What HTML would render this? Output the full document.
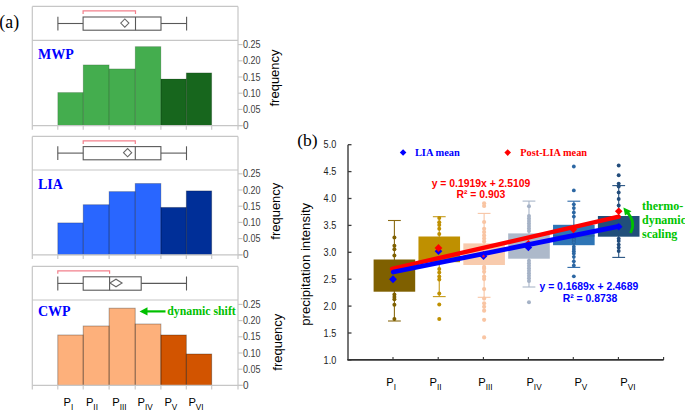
<!DOCTYPE html>
<html><head><meta charset="utf-8"><style>
html,body{margin:0;padding:0;background:#fff;}
body{width:685px;height:410px;overflow:hidden;}
svg{display:block;}
</style></head><body>
<svg width="685" height="410" viewBox="0 0 685 410">
<rect width="685" height="410" fill="#fff"/>
<line x1="32.3" y1="6.4" x2="238.0" y2="6.4" stroke="#c6c6c6" stroke-width="1.2"/>
<line x1="32.3" y1="40.3" x2="238.0" y2="40.3" stroke="#c6c6c6" stroke-width="1.2"/>
<line x1="32.3" y1="6.4" x2="32.3" y2="129.8" stroke="#c6c6c6" stroke-width="1.2"/>
<line x1="238.0" y1="6.4" x2="238.0" y2="129.8" stroke="#c6c6c6" stroke-width="1.2"/>
<rect x="57.80" y="92.50" width="25.40" height="33.10" fill="#44ad4e"/>
<rect x="83.20" y="64.90" width="25.90" height="60.70" fill="#44ad4e"/>
<rect x="109.10" y="68.90" width="26.10" height="56.70" fill="#44ad4e"/>
<rect x="135.20" y="46.60" width="25.70" height="79.00" fill="#44ad4e"/>
<rect x="160.90" y="79.00" width="25.40" height="46.60" fill="#17661d"/>
<rect x="186.30" y="72.90" width="25.40" height="52.70" fill="#17661d"/>
<rect x="57.80" y="92.50" width="25.40" height="33.10" fill="none" stroke="#000" stroke-opacity="0.17" stroke-width="0.9"/>
<rect x="83.20" y="64.90" width="25.90" height="60.70" fill="none" stroke="#000" stroke-opacity="0.17" stroke-width="0.9"/>
<rect x="109.10" y="68.90" width="26.10" height="56.70" fill="none" stroke="#000" stroke-opacity="0.17" stroke-width="0.9"/>
<rect x="135.20" y="46.60" width="25.70" height="79.00" fill="none" stroke="#000" stroke-opacity="0.17" stroke-width="0.9"/>
<rect x="160.90" y="79.00" width="25.40" height="46.60" fill="none" stroke="#000" stroke-opacity="0.17" stroke-width="0.9"/>
<rect x="186.30" y="72.90" width="25.40" height="52.70" fill="none" stroke="#000" stroke-opacity="0.17" stroke-width="0.9"/>
<line x1="32.3" y1="125.6" x2="242.5" y2="125.6" stroke="#c6c6c6" stroke-width="1.2"/>
<line x1="57.80" y1="125.6" x2="57.80" y2="129.8" stroke="#c6c6c6" stroke-width="1.1"/>
<line x1="83.20" y1="125.6" x2="83.20" y2="129.8" stroke="#c6c6c6" stroke-width="1.1"/>
<line x1="109.10" y1="125.6" x2="109.10" y2="129.8" stroke="#c6c6c6" stroke-width="1.1"/>
<line x1="135.20" y1="125.6" x2="135.20" y2="129.8" stroke="#c6c6c6" stroke-width="1.1"/>
<line x1="160.90" y1="125.6" x2="160.90" y2="129.8" stroke="#c6c6c6" stroke-width="1.1"/>
<line x1="186.30" y1="125.6" x2="186.30" y2="129.8" stroke="#c6c6c6" stroke-width="1.1"/>
<line x1="211.70" y1="125.6" x2="211.70" y2="129.8" stroke="#c6c6c6" stroke-width="1.1"/>
<line x1="238.0" y1="125.60" x2="242.5" y2="125.60" stroke="#c6c6c6" stroke-width="1.1"/>
<text x="243.0" y="129.10" font-family='"Liberation Sans", sans-serif' font-size="10.0" fill="#404040">0</text>
<line x1="238.0" y1="109.40" x2="242.5" y2="109.40" stroke="#c6c6c6" stroke-width="1.1"/>
<text x="243.0" y="112.90" font-family='"Liberation Sans", sans-serif' font-size="10.0" fill="#404040" textLength="17.5" lengthAdjust="spacingAndGlyphs">0.05</text>
<line x1="238.0" y1="93.20" x2="242.5" y2="93.20" stroke="#c6c6c6" stroke-width="1.1"/>
<text x="243.0" y="96.70" font-family='"Liberation Sans", sans-serif' font-size="10.0" fill="#404040" textLength="17.5" lengthAdjust="spacingAndGlyphs">0.10</text>
<line x1="238.0" y1="77.00" x2="242.5" y2="77.00" stroke="#c6c6c6" stroke-width="1.1"/>
<text x="243.0" y="80.50" font-family='"Liberation Sans", sans-serif' font-size="10.0" fill="#404040" textLength="17.5" lengthAdjust="spacingAndGlyphs">0.15</text>
<line x1="238.0" y1="60.80" x2="242.5" y2="60.80" stroke="#c6c6c6" stroke-width="1.1"/>
<text x="243.0" y="64.30" font-family='"Liberation Sans", sans-serif' font-size="10.0" fill="#404040" textLength="17.5" lengthAdjust="spacingAndGlyphs">0.20</text>
<line x1="238.0" y1="44.60" x2="242.5" y2="44.60" stroke="#c6c6c6" stroke-width="1.1"/>
<text x="243.0" y="48.10" font-family='"Liberation Sans", sans-serif' font-size="10.0" fill="#404040" textLength="17.5" lengthAdjust="spacingAndGlyphs">0.25</text>
<text transform="translate(279.2,78.0) rotate(-90)" text-anchor="middle" font-family='"Liberation Sans", sans-serif' font-size="12" fill="#000" textLength="57" lengthAdjust="spacingAndGlyphs">frequency</text>
<text x="38" y="58.9" font-family='"Liberation Serif", serif' font-weight="bold" font-size="14" fill="#0000ff">MWP</text>
<line x1="57.9" y1="23.50" x2="83.1" y2="23.50" stroke="#595959" stroke-width="1.1"/>
<line x1="161.0" y1="23.50" x2="186.6" y2="23.50" stroke="#595959" stroke-width="1.1"/>
<line x1="57.9" y1="16.70" x2="57.9" y2="30.50" stroke="#595959" stroke-width="1.1"/>
<line x1="186.6" y1="16.70" x2="186.6" y2="30.50" stroke="#595959" stroke-width="1.1"/>
<rect x="83.1" y="17.00" width="77.90" height="13.20" fill="none" stroke="#595959" stroke-width="1.1"/>
<line x1="135.5" y1="17.00" x2="135.5" y2="30.20" stroke="#595959" stroke-width="1.1"/>
<path d="M120.7,23.10 L124.8,19.00 L128.9,23.10 L124.8,27.20 Z" fill="none" stroke="#666" stroke-width="1.05"/>
<path d="M83.1,13.90 L83.1,10.90 L135.5,10.90 L135.5,13.90" fill="none" stroke="#f2808c" stroke-width="1.2"/>
<line x1="32.3" y1="136.4" x2="238.0" y2="136.4" stroke="#c6c6c6" stroke-width="1.2"/>
<line x1="32.3" y1="170.0" x2="238.0" y2="170.0" stroke="#c6c6c6" stroke-width="1.2"/>
<line x1="32.3" y1="136.4" x2="32.3" y2="259.0" stroke="#c6c6c6" stroke-width="1.2"/>
<line x1="238.0" y1="136.4" x2="238.0" y2="259.0" stroke="#c6c6c6" stroke-width="1.2"/>
<rect x="57.80" y="222.90" width="25.40" height="31.90" fill="#2966ff"/>
<rect x="83.20" y="204.70" width="25.90" height="50.10" fill="#2966ff"/>
<rect x="109.10" y="191.60" width="26.10" height="63.20" fill="#2966ff"/>
<rect x="135.20" y="183.50" width="25.70" height="71.30" fill="#2966ff"/>
<rect x="160.90" y="207.40" width="25.40" height="47.40" fill="#002f98"/>
<rect x="186.30" y="190.90" width="25.40" height="63.90" fill="#002f98"/>
<rect x="57.80" y="222.90" width="25.40" height="31.90" fill="none" stroke="#000" stroke-opacity="0.25" stroke-width="0.9"/>
<rect x="83.20" y="204.70" width="25.90" height="50.10" fill="none" stroke="#000" stroke-opacity="0.25" stroke-width="0.9"/>
<rect x="109.10" y="191.60" width="26.10" height="63.20" fill="none" stroke="#000" stroke-opacity="0.25" stroke-width="0.9"/>
<rect x="135.20" y="183.50" width="25.70" height="71.30" fill="none" stroke="#000" stroke-opacity="0.25" stroke-width="0.9"/>
<rect x="160.90" y="207.40" width="25.40" height="47.40" fill="none" stroke="#000" stroke-opacity="0.25" stroke-width="0.9"/>
<rect x="186.30" y="190.90" width="25.40" height="63.90" fill="none" stroke="#000" stroke-opacity="0.25" stroke-width="0.9"/>
<line x1="32.3" y1="254.8" x2="242.5" y2="254.8" stroke="#c6c6c6" stroke-width="1.2"/>
<line x1="57.80" y1="254.8" x2="57.80" y2="259.0" stroke="#c6c6c6" stroke-width="1.1"/>
<line x1="83.20" y1="254.8" x2="83.20" y2="259.0" stroke="#c6c6c6" stroke-width="1.1"/>
<line x1="109.10" y1="254.8" x2="109.10" y2="259.0" stroke="#c6c6c6" stroke-width="1.1"/>
<line x1="135.20" y1="254.8" x2="135.20" y2="259.0" stroke="#c6c6c6" stroke-width="1.1"/>
<line x1="160.90" y1="254.8" x2="160.90" y2="259.0" stroke="#c6c6c6" stroke-width="1.1"/>
<line x1="186.30" y1="254.8" x2="186.30" y2="259.0" stroke="#c6c6c6" stroke-width="1.1"/>
<line x1="211.70" y1="254.8" x2="211.70" y2="259.0" stroke="#c6c6c6" stroke-width="1.1"/>
<line x1="238.0" y1="254.80" x2="242.5" y2="254.80" stroke="#c6c6c6" stroke-width="1.1"/>
<text x="243.0" y="258.30" font-family='"Liberation Sans", sans-serif' font-size="10.0" fill="#404040">0</text>
<line x1="238.0" y1="238.60" x2="242.5" y2="238.60" stroke="#c6c6c6" stroke-width="1.1"/>
<text x="243.0" y="242.10" font-family='"Liberation Sans", sans-serif' font-size="10.0" fill="#404040" textLength="17.5" lengthAdjust="spacingAndGlyphs">0.05</text>
<line x1="238.0" y1="222.40" x2="242.5" y2="222.40" stroke="#c6c6c6" stroke-width="1.1"/>
<text x="243.0" y="225.90" font-family='"Liberation Sans", sans-serif' font-size="10.0" fill="#404040" textLength="17.5" lengthAdjust="spacingAndGlyphs">0.10</text>
<line x1="238.0" y1="206.20" x2="242.5" y2="206.20" stroke="#c6c6c6" stroke-width="1.1"/>
<text x="243.0" y="209.70" font-family='"Liberation Sans", sans-serif' font-size="10.0" fill="#404040" textLength="17.5" lengthAdjust="spacingAndGlyphs">0.15</text>
<line x1="238.0" y1="190.00" x2="242.5" y2="190.00" stroke="#c6c6c6" stroke-width="1.1"/>
<text x="243.0" y="193.50" font-family='"Liberation Sans", sans-serif' font-size="10.0" fill="#404040" textLength="17.5" lengthAdjust="spacingAndGlyphs">0.20</text>
<line x1="238.0" y1="173.80" x2="242.5" y2="173.80" stroke="#c6c6c6" stroke-width="1.1"/>
<text x="243.0" y="177.30" font-family='"Liberation Sans", sans-serif' font-size="10.0" fill="#404040" textLength="17.5" lengthAdjust="spacingAndGlyphs">0.25</text>
<text transform="translate(279.6,211.2) rotate(-90)" text-anchor="middle" font-family='"Liberation Sans", sans-serif' font-size="12" fill="#000" textLength="57" lengthAdjust="spacingAndGlyphs">frequency</text>
<text x="38" y="188.6" font-family='"Liberation Serif", serif' font-weight="bold" font-size="14" fill="#0000ff">LIA</text>
<line x1="57.8" y1="153.10" x2="83.2" y2="153.10" stroke="#595959" stroke-width="1.1"/>
<line x1="160.9" y1="153.10" x2="186.5" y2="153.10" stroke="#595959" stroke-width="1.1"/>
<line x1="57.8" y1="146.30" x2="57.8" y2="160.10" stroke="#595959" stroke-width="1.1"/>
<line x1="186.5" y1="146.30" x2="186.5" y2="160.10" stroke="#595959" stroke-width="1.1"/>
<rect x="83.2" y="146.60" width="77.70" height="13.20" fill="none" stroke="#595959" stroke-width="1.1"/>
<line x1="135.3" y1="146.60" x2="135.3" y2="159.80" stroke="#595959" stroke-width="1.1"/>
<path d="M123.5,152.70 L127.6,148.60 L131.7,152.70 L127.6,156.80 Z" fill="none" stroke="#666" stroke-width="1.05"/>
<path d="M83.2,143.90 L83.2,140.90 L135.3,140.90 L135.3,143.90" fill="none" stroke="#f2808c" stroke-width="1.2"/>
<line x1="32.3" y1="266.4" x2="238.0" y2="266.4" stroke="#c6c6c6" stroke-width="1.2"/>
<line x1="32.3" y1="300.0" x2="238.0" y2="300.0" stroke="#c6c6c6" stroke-width="1.2"/>
<line x1="32.3" y1="266.4" x2="32.3" y2="389.6" stroke="#c6c6c6" stroke-width="1.2"/>
<line x1="238.0" y1="266.4" x2="238.0" y2="389.6" stroke="#c6c6c6" stroke-width="1.2"/>
<rect x="57.80" y="335.00" width="25.40" height="50.40" fill="#fdb07b"/>
<rect x="83.20" y="326.00" width="25.90" height="59.40" fill="#fdb07b"/>
<rect x="109.10" y="308.20" width="26.10" height="77.20" fill="#fdb07b"/>
<rect x="135.20" y="324.00" width="25.70" height="61.40" fill="#fdb07b"/>
<rect x="160.90" y="335.00" width="25.40" height="50.40" fill="#d25400"/>
<rect x="186.30" y="354.00" width="25.40" height="31.40" fill="#d25400"/>
<rect x="57.80" y="335.00" width="25.40" height="50.40" fill="none" stroke="#000" stroke-opacity="0.33" stroke-width="0.9"/>
<rect x="83.20" y="326.00" width="25.90" height="59.40" fill="none" stroke="#000" stroke-opacity="0.33" stroke-width="0.9"/>
<rect x="109.10" y="308.20" width="26.10" height="77.20" fill="none" stroke="#000" stroke-opacity="0.33" stroke-width="0.9"/>
<rect x="135.20" y="324.00" width="25.70" height="61.40" fill="none" stroke="#000" stroke-opacity="0.33" stroke-width="0.9"/>
<rect x="160.90" y="335.00" width="25.40" height="50.40" fill="none" stroke="#000" stroke-opacity="0.33" stroke-width="0.9"/>
<rect x="186.30" y="354.00" width="25.40" height="31.40" fill="none" stroke="#000" stroke-opacity="0.33" stroke-width="0.9"/>
<line x1="32.3" y1="385.4" x2="242.5" y2="385.4" stroke="#c6c6c6" stroke-width="1.2"/>
<line x1="57.80" y1="385.4" x2="57.80" y2="389.6" stroke="#c6c6c6" stroke-width="1.1"/>
<line x1="83.20" y1="385.4" x2="83.20" y2="389.6" stroke="#c6c6c6" stroke-width="1.1"/>
<line x1="109.10" y1="385.4" x2="109.10" y2="389.6" stroke="#c6c6c6" stroke-width="1.1"/>
<line x1="135.20" y1="385.4" x2="135.20" y2="389.6" stroke="#c6c6c6" stroke-width="1.1"/>
<line x1="160.90" y1="385.4" x2="160.90" y2="389.6" stroke="#c6c6c6" stroke-width="1.1"/>
<line x1="186.30" y1="385.4" x2="186.30" y2="389.6" stroke="#c6c6c6" stroke-width="1.1"/>
<line x1="211.70" y1="385.4" x2="211.70" y2="389.6" stroke="#c6c6c6" stroke-width="1.1"/>
<line x1="238.0" y1="385.40" x2="242.5" y2="385.40" stroke="#c6c6c6" stroke-width="1.1"/>
<text x="243.0" y="388.90" font-family='"Liberation Sans", sans-serif' font-size="10.0" fill="#404040">0</text>
<line x1="238.0" y1="369.20" x2="242.5" y2="369.20" stroke="#c6c6c6" stroke-width="1.1"/>
<text x="243.0" y="372.70" font-family='"Liberation Sans", sans-serif' font-size="10.0" fill="#404040" textLength="17.5" lengthAdjust="spacingAndGlyphs">0.05</text>
<line x1="238.0" y1="353.00" x2="242.5" y2="353.00" stroke="#c6c6c6" stroke-width="1.1"/>
<text x="243.0" y="356.50" font-family='"Liberation Sans", sans-serif' font-size="10.0" fill="#404040" textLength="17.5" lengthAdjust="spacingAndGlyphs">0.10</text>
<line x1="238.0" y1="336.80" x2="242.5" y2="336.80" stroke="#c6c6c6" stroke-width="1.1"/>
<text x="243.0" y="340.30" font-family='"Liberation Sans", sans-serif' font-size="10.0" fill="#404040" textLength="17.5" lengthAdjust="spacingAndGlyphs">0.15</text>
<line x1="238.0" y1="320.60" x2="242.5" y2="320.60" stroke="#c6c6c6" stroke-width="1.1"/>
<text x="243.0" y="324.10" font-family='"Liberation Sans", sans-serif' font-size="10.0" fill="#404040" textLength="17.5" lengthAdjust="spacingAndGlyphs">0.20</text>
<line x1="238.0" y1="304.40" x2="242.5" y2="304.40" stroke="#c6c6c6" stroke-width="1.1"/>
<text x="243.0" y="307.90" font-family='"Liberation Sans", sans-serif' font-size="10.0" fill="#404040" textLength="17.5" lengthAdjust="spacingAndGlyphs">0.25</text>
<text transform="translate(282.4,342.2) rotate(-90)" text-anchor="middle" font-family='"Liberation Sans", sans-serif' font-size="12" fill="#000" textLength="57" lengthAdjust="spacingAndGlyphs">frequency</text>
<text x="38" y="316.3" font-family='"Liberation Serif", serif' font-weight="bold" font-size="14" fill="#0000ff">CWP</text>
<line x1="57.8" y1="283.40" x2="83.2" y2="283.40" stroke="#595959" stroke-width="1.1"/>
<line x1="141.2" y1="283.40" x2="186.5" y2="283.40" stroke="#595959" stroke-width="1.1"/>
<line x1="57.8" y1="276.50" x2="57.8" y2="290.50" stroke="#595959" stroke-width="1.1"/>
<line x1="186.5" y1="276.50" x2="186.5" y2="290.50" stroke="#595959" stroke-width="1.1"/>
<rect x="83.2" y="276.80" width="58.00" height="13.40" fill="none" stroke="#595959" stroke-width="1.1"/>
<line x1="109.6" y1="276.80" x2="109.6" y2="290.20" stroke="#595959" stroke-width="1.1"/>
<path d="M109.9,283.00 L116.0,279.20 L122.1,283.00 L116.0,286.80 Z" fill="none" stroke="#666" stroke-width="1.05"/>
<path d="M57.8,273.80 L57.8,270.80 L109.6,270.80 L109.6,273.80" fill="none" stroke="#f2808c" stroke-width="1.2"/>
<line x1="146" y1="311.4" x2="165.5" y2="311.4" stroke="#00c000" stroke-width="2.2"/>
<path d="M139.5,311.4 L147.5,307.3 L147.5,315.5 Z" fill="#00c000"/>
<text x="167.2" y="315.3" font-family='"Liberation Serif", serif' font-weight="bold" font-size="11.6" fill="#00c000" textLength="68.6" lengthAdjust="spacingAndGlyphs">dynamic shift</text>
<text x="63.6" y="405.9" font-family='"Liberation Sans", sans-serif' font-size="11.2" fill="#000">P<tspan font-size="8.2" dy="4.0">I</tspan></text>
<text x="85.9" y="405.9" font-family='"Liberation Sans", sans-serif' font-size="11.2" fill="#000">P<tspan font-size="8.2" dy="4.0">II</tspan></text>
<text x="112.2" y="405.9" font-family='"Liberation Sans", sans-serif' font-size="11.2" fill="#000">P<tspan font-size="8.2" dy="4.0">III</tspan></text>
<text x="137.6" y="405.9" font-family='"Liberation Sans", sans-serif' font-size="11.2" fill="#000">P<tspan font-size="8.2" dy="4.0">IV</tspan></text>
<text x="164.39999999999998" y="405.9" font-family='"Liberation Sans", sans-serif' font-size="11.2" fill="#000">P<tspan font-size="8.2" dy="4.0">V</tspan></text>
<text x="188.39999999999998" y="405.9" font-family='"Liberation Sans", sans-serif' font-size="11.2" fill="#000">P<tspan font-size="8.2" dy="4.0">VI</tspan></text>
<text x="-0.7" y="28.1" font-family='"Liberation Serif", serif' font-size="17.8" fill="#000">(a)</text>
<text x="297.2" y="145.8" font-family='"Liberation Serif", serif' font-size="17.5" fill="#000">(b)</text>
<line x1="348.0" y1="144.7" x2="348.0" y2="359.9" stroke="#3c3c3c" stroke-width="1.4"/>
<line x1="348.0" y1="359.90" x2="351.5" y2="359.90" stroke="#3c3c3c" stroke-width="1.3"/>
<text x="323.6" y="363.50" font-family='"Liberation Sans", sans-serif' font-size="10" fill="#222" textLength="12.6" lengthAdjust="spacingAndGlyphs">1.0</text>
<line x1="348.0" y1="333.00" x2="351.5" y2="333.00" stroke="#3c3c3c" stroke-width="1.3"/>
<text x="323.6" y="336.60" font-family='"Liberation Sans", sans-serif' font-size="10" fill="#222" textLength="12.6" lengthAdjust="spacingAndGlyphs">1.5</text>
<line x1="348.0" y1="306.10" x2="351.5" y2="306.10" stroke="#3c3c3c" stroke-width="1.3"/>
<text x="323.6" y="309.70" font-family='"Liberation Sans", sans-serif' font-size="10" fill="#222" textLength="12.6" lengthAdjust="spacingAndGlyphs">2.0</text>
<line x1="348.0" y1="279.20" x2="351.5" y2="279.20" stroke="#3c3c3c" stroke-width="1.3"/>
<text x="323.6" y="282.80" font-family='"Liberation Sans", sans-serif' font-size="10" fill="#222" textLength="12.6" lengthAdjust="spacingAndGlyphs">2.5</text>
<line x1="348.0" y1="252.30" x2="351.5" y2="252.30" stroke="#3c3c3c" stroke-width="1.3"/>
<text x="323.6" y="255.90" font-family='"Liberation Sans", sans-serif' font-size="10" fill="#222" textLength="12.6" lengthAdjust="spacingAndGlyphs">3.0</text>
<line x1="348.0" y1="225.40" x2="351.5" y2="225.40" stroke="#3c3c3c" stroke-width="1.3"/>
<text x="323.6" y="229.00" font-family='"Liberation Sans", sans-serif' font-size="10" fill="#222" textLength="12.6" lengthAdjust="spacingAndGlyphs">3.5</text>
<line x1="348.0" y1="198.50" x2="351.5" y2="198.50" stroke="#3c3c3c" stroke-width="1.3"/>
<text x="323.6" y="202.10" font-family='"Liberation Sans", sans-serif' font-size="10" fill="#222" textLength="12.6" lengthAdjust="spacingAndGlyphs">4.0</text>
<line x1="348.0" y1="171.60" x2="351.5" y2="171.60" stroke="#3c3c3c" stroke-width="1.3"/>
<text x="323.6" y="175.20" font-family='"Liberation Sans", sans-serif' font-size="10" fill="#222" textLength="12.6" lengthAdjust="spacingAndGlyphs">4.5</text>
<line x1="348.0" y1="144.70" x2="351.5" y2="144.70" stroke="#3c3c3c" stroke-width="1.3"/>
<text x="323.6" y="148.30" font-family='"Liberation Sans", sans-serif' font-size="10" fill="#222" textLength="12.6" lengthAdjust="spacingAndGlyphs">5.0</text>
<line x1="347.3" y1="359.9" x2="663.6" y2="359.9" stroke="#333" stroke-width="1.6"/>
<line x1="393.0" y1="356.9" x2="393.0" y2="359.9" stroke="#333" stroke-width="1.1"/>
<line x1="438.2" y1="356.9" x2="438.2" y2="359.9" stroke="#333" stroke-width="1.1"/>
<line x1="483.4" y1="356.9" x2="483.4" y2="359.9" stroke="#333" stroke-width="1.1"/>
<line x1="528.4" y1="356.9" x2="528.4" y2="359.9" stroke="#333" stroke-width="1.1"/>
<line x1="573.3" y1="356.9" x2="573.3" y2="359.9" stroke="#333" stroke-width="1.1"/>
<line x1="618.4" y1="356.9" x2="618.4" y2="359.9" stroke="#333" stroke-width="1.1"/>
<line x1="663.6" y1="356.9" x2="663.6" y2="359.9" stroke="#333" stroke-width="1.1"/>
<text transform="translate(310.0,264.3) rotate(-90)" text-anchor="middle" font-family='"Liberation Sans", sans-serif' font-size="12.5" fill="#000" textLength="123" lengthAdjust="spacingAndGlyphs">precipitation intensity</text>
<line x1="394.40" y1="220.5" x2="394.40" y2="321.0" stroke="#8a6a12" stroke-width="1.1"/>
<line x1="388.00" y1="220.5" x2="400.80" y2="220.5" stroke="#8a6a12" stroke-width="1.1"/>
<line x1="388.00" y1="321.0" x2="400.80" y2="321.0" stroke="#8a6a12" stroke-width="1.1"/>
<rect x="373.60" y="259.5" width="41.6" height="32.20" fill="#7f6000"/>
<circle cx="394.40" cy="237.6" r="2.0" fill="#7f6000"/>
<circle cx="394.40" cy="245.7" r="2.0" fill="#7f6000"/>
<circle cx="394.40" cy="249.2" r="2.0" fill="#7f6000"/>
<circle cx="394.40" cy="255.4" r="2.0" fill="#7f6000"/>
<circle cx="394.40" cy="294.5" r="2.0" fill="#7f6000"/>
<circle cx="394.40" cy="297.0" r="2.0" fill="#7f6000"/>
<circle cx="394.40" cy="299.3" r="2.0" fill="#7f6000"/>
<circle cx="394.40" cy="304.7" r="2.0" fill="#7f6000"/>
<circle cx="394.40" cy="319.1" r="2.0" fill="#7f6000"/>
<line x1="439.26" y1="216.7" x2="439.26" y2="296.6" stroke="#c49a1a" stroke-width="1.1"/>
<line x1="432.86" y1="216.7" x2="445.66" y2="216.7" stroke="#c49a1a" stroke-width="1.1"/>
<line x1="432.86" y1="296.6" x2="445.66" y2="296.6" stroke="#c49a1a" stroke-width="1.1"/>
<rect x="418.46" y="236.5" width="41.6" height="25.70" fill="#bf9000"/>
<circle cx="439.26" cy="218.1" r="2.0" fill="#bf9000"/>
<circle cx="439.26" cy="222.2" r="2.0" fill="#bf9000"/>
<circle cx="439.26" cy="225.0" r="2.0" fill="#bf9000"/>
<circle cx="439.26" cy="228.7" r="2.0" fill="#bf9000"/>
<circle cx="439.26" cy="233.9" r="2.0" fill="#bf9000"/>
<circle cx="439.26" cy="268.9" r="2.0" fill="#bf9000"/>
<circle cx="439.26" cy="272.6" r="2.0" fill="#bf9000"/>
<circle cx="439.26" cy="276.4" r="2.0" fill="#bf9000"/>
<circle cx="439.26" cy="279.4" r="2.0" fill="#bf9000"/>
<circle cx="439.26" cy="293.5" r="2.0" fill="#bf9000"/>
<circle cx="439.26" cy="304.6" r="2.0" fill="#bf9000"/>
<circle cx="439.26" cy="318.9" r="2.0" fill="#bf9000"/>
<line x1="484.12" y1="213.4" x2="484.12" y2="297.3" stroke="#f8c6a6" stroke-width="1.1"/>
<line x1="477.72" y1="213.4" x2="490.52" y2="213.4" stroke="#f8c6a6" stroke-width="1.1"/>
<line x1="477.72" y1="297.3" x2="490.52" y2="297.3" stroke="#f8c6a6" stroke-width="1.1"/>
<rect x="463.32" y="243.4" width="41.6" height="21.60" fill="#f8cbad"/>
<circle cx="484.12" cy="203.3" r="2.1" fill="#f9c5a3"/>
<circle cx="484.12" cy="206.0" r="2.1" fill="#f9c5a3"/>
<circle cx="484.12" cy="222.0" r="2.1" fill="#f9c5a3"/>
<circle cx="484.12" cy="228.8" r="2.1" fill="#f9c5a3"/>
<circle cx="484.12" cy="232.1" r="2.1" fill="#f9c5a3"/>
<circle cx="484.12" cy="235.4" r="2.1" fill="#f9c5a3"/>
<circle cx="484.12" cy="238.5" r="2.1" fill="#f9c5a3"/>
<circle cx="484.12" cy="241.5" r="2.1" fill="#f9c5a3"/>
<circle cx="484.12" cy="266.9" r="2.1" fill="#f9c5a3"/>
<circle cx="484.12" cy="268.7" r="2.1" fill="#f9c5a3"/>
<circle cx="484.12" cy="271.8" r="2.1" fill="#f9c5a3"/>
<circle cx="484.12" cy="276.6" r="2.1" fill="#f9c5a3"/>
<circle cx="484.12" cy="279.1" r="2.1" fill="#f9c5a3"/>
<circle cx="484.12" cy="289.1" r="2.1" fill="#f9c5a3"/>
<circle cx="484.12" cy="298.6" r="2.1" fill="#f9c5a3"/>
<circle cx="484.12" cy="303.3" r="2.1" fill="#f9c5a3"/>
<circle cx="484.12" cy="306.8" r="2.1" fill="#f9c5a3"/>
<circle cx="484.12" cy="310.7" r="2.1" fill="#f9c5a3"/>
<circle cx="484.12" cy="319.8" r="2.1" fill="#f9c5a3"/>
<circle cx="484.12" cy="337.4" r="2.1" fill="#f9c5a3"/>
<line x1="528.98" y1="201.1" x2="528.98" y2="287.0" stroke="#a9b6c9" stroke-width="1.1"/>
<line x1="522.58" y1="201.1" x2="535.38" y2="201.1" stroke="#a9b6c9" stroke-width="1.1"/>
<line x1="522.58" y1="287.0" x2="535.38" y2="287.0" stroke="#a9b6c9" stroke-width="1.1"/>
<rect x="508.18" y="233.4" width="41.6" height="25.30" fill="#adb9ca"/>
<circle cx="528.98" cy="206.3" r="2.0" fill="#a5b2c6"/>
<circle cx="528.98" cy="215.9" r="2.0" fill="#a5b2c6"/>
<circle cx="528.98" cy="218.4" r="2.0" fill="#a5b2c6"/>
<circle cx="528.98" cy="220.9" r="2.0" fill="#a5b2c6"/>
<circle cx="528.98" cy="223.4" r="2.0" fill="#a5b2c6"/>
<circle cx="528.98" cy="225.9" r="2.0" fill="#a5b2c6"/>
<circle cx="528.98" cy="228.4" r="2.0" fill="#a5b2c6"/>
<circle cx="528.98" cy="231.0" r="2.0" fill="#a5b2c6"/>
<circle cx="528.98" cy="260.7" r="2.0" fill="#a5b2c6"/>
<circle cx="528.98" cy="263.2" r="2.0" fill="#a5b2c6"/>
<circle cx="528.98" cy="265.7" r="2.0" fill="#a5b2c6"/>
<circle cx="528.98" cy="268.2" r="2.0" fill="#a5b2c6"/>
<circle cx="528.98" cy="270.7" r="2.0" fill="#a5b2c6"/>
<circle cx="528.98" cy="273.2" r="2.0" fill="#a5b2c6"/>
<circle cx="528.98" cy="275.7" r="2.0" fill="#a5b2c6"/>
<circle cx="528.98" cy="278.2" r="2.0" fill="#a5b2c6"/>
<circle cx="528.98" cy="280.9" r="2.0" fill="#a5b2c6"/>
<circle cx="528.98" cy="302.3" r="2.0" fill="#a5b2c6"/>
<line x1="573.84" y1="201.2" x2="573.84" y2="267.4" stroke="#2e6aa8" stroke-width="1.1"/>
<line x1="567.44" y1="201.2" x2="580.24" y2="201.2" stroke="#2e6aa8" stroke-width="1.1"/>
<line x1="567.44" y1="267.4" x2="580.24" y2="267.4" stroke="#2e6aa8" stroke-width="1.1"/>
<rect x="553.04" y="224.8" width="41.6" height="20.40" fill="#2e75b6"/>
<line x1="553.04" y1="235.9" x2="594.64" y2="235.9" stroke="#27609a" stroke-width="1"/>
<line x1="573.84" y1="224.8" x2="573.84" y2="245.2" stroke="#2a65a0" stroke-width="1"/>
<circle cx="573.84" cy="237.6" r="1.7" fill="#2f72b2" stroke="#245d96" stroke-width="0.7"/>
<circle cx="573.84" cy="240.0" r="1.7" fill="#2f72b2" stroke="#245d96" stroke-width="0.7"/>
<circle cx="573.84" cy="242.4" r="1.7" fill="#2f72b2" stroke="#245d96" stroke-width="0.7"/>
<circle cx="573.84" cy="166.5" r="1.9" fill="#2c67a3"/>
<circle cx="573.84" cy="190.4" r="1.9" fill="#2c67a3"/>
<circle cx="573.84" cy="204.3" r="1.9" fill="#2c67a3"/>
<circle cx="573.84" cy="208.1" r="1.9" fill="#2c67a3"/>
<circle cx="573.84" cy="212.4" r="1.9" fill="#2c67a3"/>
<circle cx="573.84" cy="216.6" r="1.9" fill="#2c67a3"/>
<circle cx="573.84" cy="246.7" r="1.9" fill="#2c67a3"/>
<circle cx="573.84" cy="249.1" r="1.9" fill="#2c67a3"/>
<circle cx="573.84" cy="251.2" r="1.9" fill="#2c67a3"/>
<circle cx="573.84" cy="253.4" r="1.9" fill="#2c67a3"/>
<circle cx="573.84" cy="256.8" r="1.9" fill="#2c67a3"/>
<circle cx="573.84" cy="261.3" r="1.9" fill="#2c67a3"/>
<circle cx="573.84" cy="265.4" r="1.9" fill="#2c67a3"/>
<circle cx="573.84" cy="276.3" r="1.9" fill="#2c67a3"/>
<line x1="618.70" y1="185.6" x2="618.70" y2="257.4" stroke="#285482" stroke-width="1.1"/>
<line x1="612.30" y1="185.6" x2="625.10" y2="185.6" stroke="#285482" stroke-width="1.1"/>
<line x1="612.30" y1="257.4" x2="625.10" y2="257.4" stroke="#285482" stroke-width="1.1"/>
<rect x="597.90" y="216.0" width="41.6" height="20.70" fill="#214f7a"/>
<circle cx="618.70" cy="165.5" r="1.95" fill="#224c7b"/>
<circle cx="618.70" cy="175.2" r="1.95" fill="#224c7b"/>
<circle cx="618.70" cy="183.6" r="1.95" fill="#224c7b"/>
<circle cx="618.70" cy="186.5" r="1.95" fill="#224c7b"/>
<circle cx="618.70" cy="192.4" r="1.95" fill="#224c7b"/>
<circle cx="618.70" cy="199.0" r="1.95" fill="#224c7b"/>
<circle cx="618.70" cy="205.5" r="1.95" fill="#224c7b"/>
<circle cx="618.70" cy="238.6" r="1.95" fill="#224c7b"/>
<circle cx="618.70" cy="240.9" r="1.95" fill="#224c7b"/>
<circle cx="618.70" cy="244.6" r="1.95" fill="#224c7b"/>
<circle cx="618.70" cy="247.6" r="1.95" fill="#224c7b"/>
<circle cx="618.70" cy="251.0" r="1.95" fill="#224c7b"/>
<path d="M389.05,279.20 L393.00,275.25 L396.95,279.20 L393.00,283.15 Z" fill="#0000ff"/>
<path d="M434.66,251.20 L438.46,247.40 L442.26,251.20 L438.46,255.00 Z" fill="#0000ff"/>
<path d="M434.56,248.00 L438.46,244.10 L442.36,248.00 L438.46,251.90 Z" fill="#ff0000"/>
<line x1="392.00" y1="268.84" x2="618.70" y2="216.67" stroke="#ff0000" stroke-width="4.4" stroke-linecap="round"/>
<path d="M479.92,254.60 L483.52,251.00 L487.12,254.60 L483.52,258.20 Z" fill="#ff0000"/>
<path d="M524.78,243.50 L528.38,239.90 L531.98,243.50 L528.38,247.10 Z" fill="#ff0000"/>
<line x1="393.30" y1="272.01" x2="618.70" y2="226.35" stroke="#0000ff" stroke-width="4.8" stroke-linecap="round"/>
<path d="M479.72,256.30 L483.52,252.50 L487.32,256.30 L483.52,260.10 Z" fill="#0000ff"/>
<path d="M481.92,256.20 L483.52,254.60 L485.12,256.20 L483.52,257.80 Z" fill="#e01040"/>
<path d="M524.58,247.50 L528.38,243.70 L532.18,247.50 L528.38,251.30 Z" fill="#0000ff"/>
<path d="M614.90,211.20 L618.70,207.40 L622.50,211.20 L618.70,215.00 Z" fill="#ff0000"/>
<path d="M569.64,229.60 L573.34,225.90 L577.04,229.60 L573.34,233.30 Z" fill="#ff0000"/>
<path d="M614.90,226.80 L618.70,223.00 L622.50,226.80 L618.70,230.60 Z" fill="#0000ff"/>
<path d="M399.80,152.50 L403.10,149.20 L406.40,152.50 L403.10,155.80 Z" fill="#0000ff"/>
<text x="414.9" y="156.2" font-family='"Liberation Serif", serif' font-weight="bold" font-size="10.3" fill="#0000ff" textLength="44.9" lengthAdjust="spacingAndGlyphs">LIA mean</text>
<path d="M504.40,152.60 L507.70,149.30 L511.00,152.60 L507.70,155.90 Z" fill="#ff0000"/>
<text x="520.2" y="156.3" font-family='"Liberation Serif", serif' font-weight="bold" font-size="10.3" fill="#ff0000" textLength="66.9" lengthAdjust="spacingAndGlyphs">Post-LIA mean</text>
<text x="431.7" y="186.9" font-family='"Liberation Sans", sans-serif' font-weight="bold" font-size="10.4" fill="#ff0000" textLength="98.6" lengthAdjust="spacingAndGlyphs">y = 0.1919x + 2.5109</text>
<text x="456.5" y="198.3" font-family='"Liberation Sans", sans-serif' font-weight="bold" font-size="10.4" fill="#ff0000">R² = 0.903</text>
<text x="539.5" y="290.4" font-family='"Liberation Sans", sans-serif' font-weight="bold" font-size="10.4" fill="#0000ff" textLength="98.7" lengthAdjust="spacingAndGlyphs">y = 0.1689x + 2.4689</text>
<text x="562.7" y="302.4" font-family='"Liberation Sans", sans-serif' font-weight="bold" font-size="10.4" fill="#0000ff">R² = 0.8738</text>
<path d="M630.5,233 Q636.5,222 626.6,211.5" fill="none" stroke="#00c000" stroke-width="2.6"/>
<path d="M623.4,207.6 L631.5,211.2 L625.0,215.6 Z" fill="#00c000"/>
<text font-family='"Liberation Serif", serif' font-weight="bold" font-size="12" fill="#00c400"><tspan x="642" y="210">thermo-</tspan><tspan x="642" y="224">dynamic</tspan><tspan x="642" y="238">scaling</tspan></text>
<text x="386.2" y="385.9" font-family='"Liberation Sans", sans-serif' font-size="11.2" fill="#000">P<tspan font-size="8.2" dy="4.0">I</tspan></text>
<text x="429.5" y="385.9" font-family='"Liberation Sans", sans-serif' font-size="11.2" fill="#000">P<tspan font-size="8.2" dy="4.0">II</tspan></text>
<text x="478.3" y="385.9" font-family='"Liberation Sans", sans-serif' font-size="11.2" fill="#000">P<tspan font-size="8.2" dy="4.0">III</tspan></text>
<text x="526.4" y="385.9" font-family='"Liberation Sans", sans-serif' font-size="11.2" fill="#000">P<tspan font-size="8.2" dy="4.0">IV</tspan></text>
<text x="574.4" y="385.9" font-family='"Liberation Sans", sans-serif' font-size="11.2" fill="#000">P<tspan font-size="8.2" dy="4.0">V</tspan></text>
<text x="620.3" y="385.9" font-family='"Liberation Sans", sans-serif' font-size="11.2" fill="#000">P<tspan font-size="8.2" dy="4.0">VI</tspan></text>
</svg>
</body></html>
